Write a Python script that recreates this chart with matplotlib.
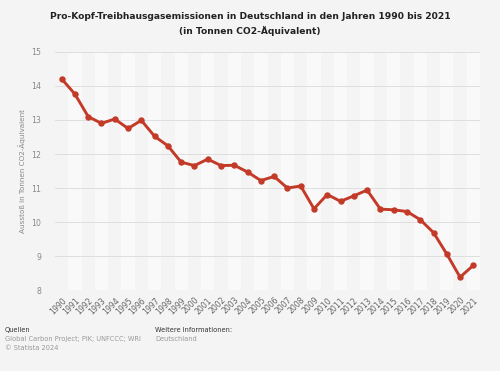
import matplotlib.pyplot as plt

jahre = list(range(1990, 2022))
werte = [14.21, 13.76, 13.10, 12.90, 13.03, 12.75, 12.99, 12.52, 12.24, 11.76,
         11.66, 11.85, 11.66, 11.67, 11.47, 11.22, 11.34, 11.00, 11.06, 10.39,
         10.81, 10.61, 10.77, 10.94, 10.38, 10.36, 10.31, 10.07, 9.69, 9.06,
         8.38, 8.73]
y_ticks = [8, 9, 10, 11, 12, 13, 14, 15]

bg = '#f4f4f4'
rot = '#c33b28'

fig = plt.figure(figsize=(5, 3.71), dpi=100, facecolor=bg)
ax = fig.add_axes([0.11, 0.218, 0.85, 0.642], facecolor=bg)

# abwechselnde Spalten
for i, j in enumerate(jahre):
    if i % 2 == 1:
        ax.axvspan(j - 0.5, j + 0.5, color='#f9f9f9', zorder=0, lw=0)

for t in y_ticks:
    ax.axhline(t, color='#dedede', lw=0.7, zorder=1)

ax.plot(jahre, werte, color=rot, lw=2.1, marker='o', markersize=3.6, zorder=3)

ax.set_xlim(1989.5, 2021.5)
ax.set_ylim(8, 15)
ax.set_yticks(y_ticks)
ax.set_xticks(jahre)
ax.set_xticklabels([str(j) for j in jahre], rotation=45, ha='right',
                   rotation_mode='anchor', fontsize=5.6, color='#666666')
ax.tick_params(axis='y', labelsize=5.6, colors='#888888', length=0, pad=10)
ax.tick_params(axis='x', length=0, pad=4)
for s in ax.spines.values():
    s.set_visible(False)

ax.set_ylabel('Ausstoß in Tonnen CO2-Äquivalent', fontsize=5.2, color='#888888', labelpad=4)

fig.text(0.5, 0.955, 'Pro-Kopf-Treibhausgasemissionen in Deutschland in den Jahren 1990 bis 2021',
         ha='center', va='center', fontsize=6.6, fontweight='bold', color='#222222')
fig.text(0.5, 0.917, '(in Tonnen CO2-Äquivalent)',
         ha='center', va='center', fontsize=6.6, fontweight='bold', color='#222222')

fig.text(0.01, 0.11, 'Quellen', fontsize=4.8, color='#333333', va='center')
fig.text(0.01, 0.086, 'Global Carbon Project; PIK; UNFCCC; WRI', fontsize=4.8, color='#999999', va='center')
fig.text(0.01, 0.062, '© Statista 2024', fontsize=4.8, color='#999999', va='center')
fig.text(0.31, 0.11, 'Weitere Informationen:', fontsize=4.8, color='#333333', va='center')
fig.text(0.31, 0.086, 'Deutschland', fontsize=4.8, color='#999999', va='center')

fig.savefig('out.png', dpi=100, facecolor=bg)
